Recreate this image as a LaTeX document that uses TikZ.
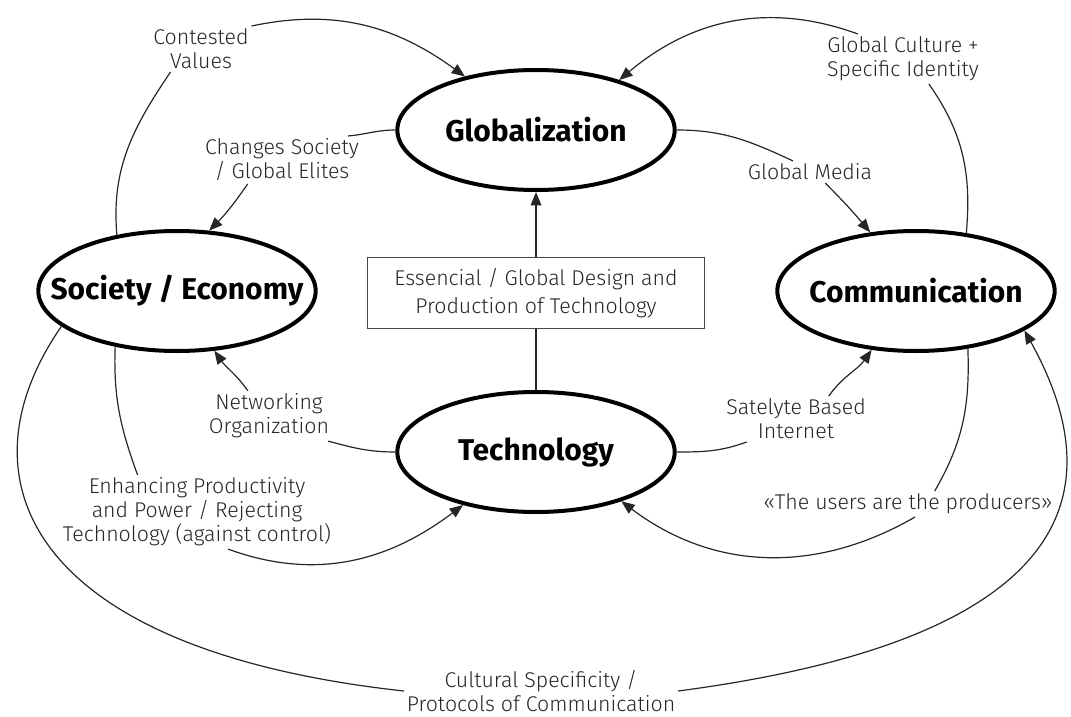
\documentclass[tikz,border=0pt]{standalone}
\usepackage{fontspec}
\setmainfont{Fira Sans}[UprightFont=* Light, BoldFont=* Bold]
\usepackage{tikz}
\usetikzlibrary{arrows.meta,shapes.geometric}

\definecolor{inkgray}{HTML}{262626}
\newcommand\ctext[1]{\makebox[0pt]{#1}}
\tikzset{
	concept/.style={ellipse, draw, line width=3pt, minimum width=208pt, minimum height=90pt, font=\bfseries\fontsize{22.5}{26}\selectfont},
	framebox/.style={draw=inkgray!85, line width=0.9pt, fill=white, minimum width=253pt, minimum height=53pt, align=center, text=inkgray, font=\fontsize{16}{20.5}\selectfont},
	lbl/.style={align=center, text=inkgray, inner sep=2pt, font=\fontsize{16}{18}\selectfont},
	link/.style={draw=inkgray, line width=0.9pt},
	arr/.style={link, -{Triangle[length=10pt, width=8pt]}}
}

\begin{document}
\begin{tikzpicture}[x=0.75pt, y=0.75pt]
			%%%%% START %%%%%
			
			\useasboundingbox (0,0) rectangle (1071,-717);
			
			\node[concept] (glob) at (536,-130) {\ctext{Globalization}};
			\node[concept] (soc) at (177,-291) {\ctext{Society / Economy}};
			\node[concept] (comm) at (916,-291) {\ctext{Communication}};
			\node[concept] (tech) at (536,-452) {\ctext{Technology}};
			\node[framebox] (design) at (536,-293) {Essencial / Global Design and\\Production of Technology};
			
			\node[lbl] (contested) at (201,-49) {Contested\\Values};
			\node[lbl] (changes) at (282,-160) {Changes Society\\/ Global Elites};
			\node[lbl] (culture) at (903,-59) {Global Culture +\\Specific Identity};
			\node[lbl] (media) at (810,-172) {Global Media};
			\node[lbl] (networking) at (269,-416) {Networking\\Organization};
			\node[lbl] (enhancing) at (197,-512) {Enhancing Productivity\\and Power / Rejecting\\Technology (against control)};
			\node[lbl] (satelyte) at (796,-419) {Satelyte Based\\Internet};
			\node[lbl] (users) at (908,-504) {«The users are the producers»};
			\node[lbl] (cultural) at (541,-691) {Cultural Specificity /\\Protocols of Communication};
			
			\draw[link] (tech.north) -- (design.south);
			\draw[arr] (design.north) -- (glob.south);
			
			\draw[link] (soc.137) to[out=95, in=236] (contested.217);
			\draw[arr] (contested.north east) to[out=12, in=144] (glob.143);
			
			\draw[link] (glob.west) to[out=180, in=5] (changes.20);
			\draw[arr] (changes.215) to[out=-125, in=45] (soc.62);
			
			\draw[link] (glob.east) to[out=0, in=155] (media.147);
			\draw[arr] (media.-36) to[out=-45, in=130] (comm.128);
			
			\draw[link] (comm.49) to[out=85, in=-55] (culture.-44);
			\draw[arr] (culture.151) to[out=160, in=40] (glob.31);
			
			\draw[link] (tech.west) to[out=180, in=-15] (networking.-23);
			\draw[arr] (networking.130) to[out=125, in=-55] (soc.-58);
			
			\draw[link] (soc.-138) to[out=-92, in=110] (enhancing.148);
			\draw[arr] (enhancing.-50) to[out=-20, in=217] (tech.216);
			
			\draw[link] (tech.east) to[out=0, in=200] (satelyte.205);
			\draw[arr] (satelyte.35) to[out=55, in=-125] (comm.-127);
			
			\draw[link] (comm.-48) to[out=-88, in=60] (users.26);
			\draw[arr] (users.-62) to[out=210, in=-37] (tech.-30);
			
			\draw[link] (soc.197) .. controls (-45,-480) and (30,-650) .. (cultural.west);
			\draw[arr] (cultural.east) .. controls (982,-651) and (1144,-546) .. (comm.-20);
			
			%%%%% END %%%%%
		\end{tikzpicture}
\end{document}
